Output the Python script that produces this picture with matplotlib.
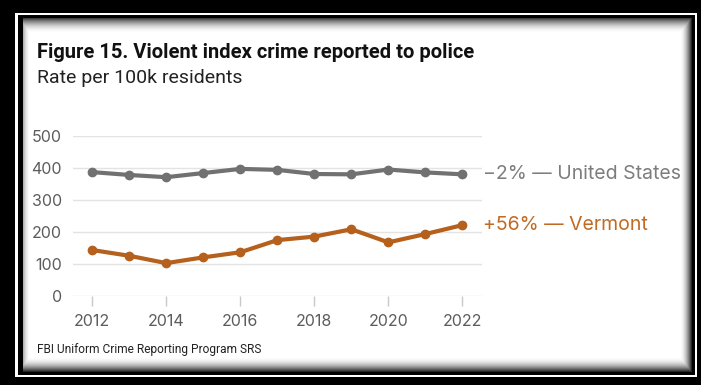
import numpy as np
import matplotlib
matplotlib.use("Agg")
import matplotlib.pyplot as plt

# data
years = [2012, 2013, 2014, 2015, 2016, 2017, 2018, 2019, 2020, 2021, 2022]
us_rate = [387, 378, 371, 384, 397, 394, 381, 380, 395, 386, 380]
vt_rate = [143, 125, 102, 120, 136, 174, 185, 208, 167, 193, 221]
us_label = "\u22122% \u2014 United States"
vt_label = "+56% \u2014 Vermont"
x_ticks = [2012, 2014, 2016, 2018, 2020, 2022]
y_ticks = [0, 100, 200, 300, 400, 500]

title = "Figure 15. Violent index crime reported to police"
subtitle = "Rate per 100k residents"
source = "FBI Uniform Crime Reporting Program SRS"

us_color = "#717171"
vt_color = "#b5601c"
W, H = 701, 385

fig = plt.figure(figsize=(W / 100, H / 100), dpi=100)

# framed background: black border, thin white line, panel with soft shadow
bg = np.zeros((H, W))
yy, xx = np.mgrid[0:H, 0:W]
bg[13:377, 15:697] = 1.0
bg[15:375, 18:695] = 0.0
px0, px1, py0, py1 = 23, 692, 18, 372


def edge_shade(dist, width, strength):
    t = np.clip(dist / width, 0, 1)
    return 1 - strength * (1 - t) ** 2


shade = np.minimum.reduce([
    edge_shade(xx - px0, 7.0, 0.3),
    edge_shade(yy - py0, 15.0, 0.75),
    edge_shade(px1 - 1 - xx, 12.0, 0.85),
    edge_shade(py1 - 1 - yy, 15.0, 0.85),
])
inside = (xx >= px0) & (xx < px1) & (yy >= py0) & (yy < py1)
bg[inside] = shade[inside]
bax = fig.add_axes([0, 0, 1, 1])
bax.imshow(bg, cmap="gray", vmin=0, vmax=1, aspect="auto", interpolation="nearest")
bax.axis("off")

# main chart
ax = fig.add_axes([73 / W, 1 - 295.7 / H, (482 - 73) / W, (295.7 - 136) / H])
ax.patch.set_alpha(0)
ax.plot(years, us_rate, color=us_color, lw=3, marker="o", ms=6, zorder=3)
ax.plot(years, vt_rate, color=vt_color, lw=3, marker="o", ms=6, zorder=3)

ax.set_xlim(2011.48, 2022.53)
ax.set_ylim(0, 500)
ax.set_xticks(x_ticks)
ax.set_yticks(y_ticks)
ax.grid(axis="y", color="#e3e3e3", lw=1)
ax.set_axisbelow(True)
for s in ax.spines.values():
    s.set_visible(False)
ax.tick_params(axis="x", length=7, width=1, color="#c8c8c8", pad=6,
               labelsize=11.5, labelcolor="#5c5c5c")
ax.tick_params(axis="y", length=0, pad=8, labelsize=11.5, labelcolor="#5c5c5c")
for lab in ax.get_xticklabels() + ax.get_yticklabels():
    lab.set_family("Inter")

# end labels
ax.annotate(us_label, (years[-1], us_rate[-1]), xytext=(15, 0), textcoords="offset points",
            va="center", ha="left", fontsize=14, color="#7d7d7d", family="Inter",
            annotation_clip=False)
ax.annotate(vt_label, (years[-1], vt_rate[-1]), xytext=(15, 0), textcoords="offset points",
            va="center", ha="left", fontsize=14, color="#c06a24", family="Inter",
            annotation_clip=False)

# titles and source
fig.text(37 / W, 1 - 52 / H, title, fontsize=14.5, fontweight="bold", color="#111111",
         family="Roboto", va="center", ha="left")
fig.text(37 / W, 1 - 78 / H, subtitle, fontsize=14, color="#222222",
         family="Roboto", va="center", ha="left")
fig.text(37 / W, 1 - 349 / H, source, fontsize=8.6, color="#222222",
         family="Roboto", va="center", ha="left")

fig.savefig("out.png", dpi=100)
